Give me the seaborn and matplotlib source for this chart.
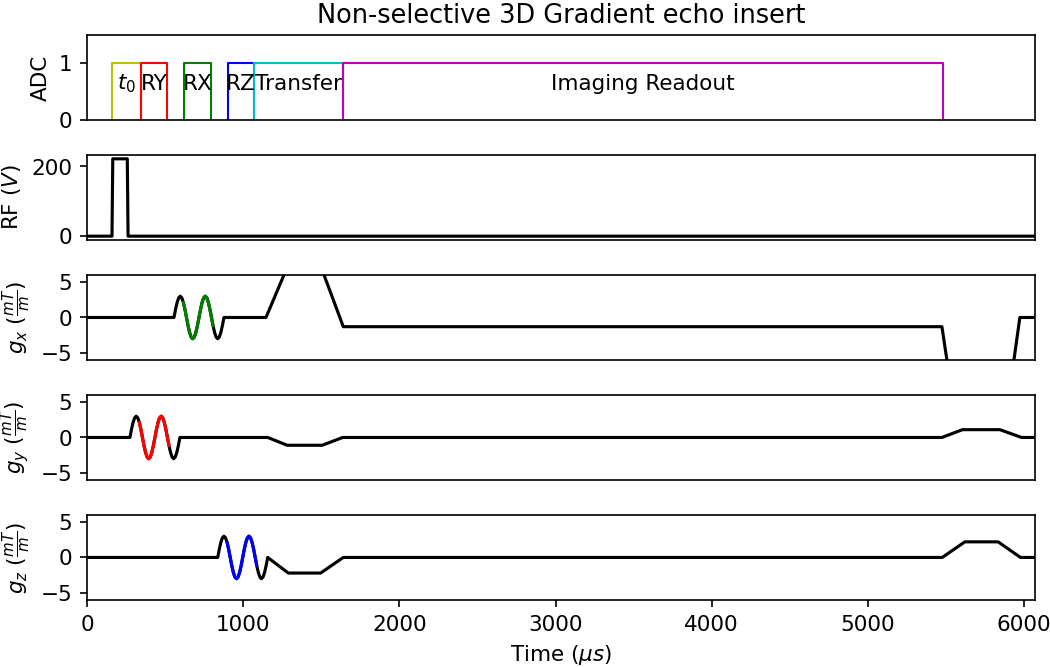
import matplotlib
matplotlib.use("Agg")
import matplotlib.pyplot as plt
import seaborn as sns
import numpy as np

# ---------------- data ----------------
t_end = 6070

# ADC windows (start, end) in us
adc_labels = ["$t_0$", "RY", "RX", "RZ", "Transfer", "Imaging Readout"]
adc_starts = [160, 346, 621, 903, 1069, 1639]
adc_ends = [346, 512, 794, 1069, 1639, 5480]
adc_colors = ["#bfbf00", "#ff0000", "#008000", "#0000ff", "#00bfbf", "#bf00bf"]

# RF pulse breakpoints
rf_times = [0, 160, 165, 258, 263, t_end]
rf_values = [0, 0, 222, 222, 0, 0]

# oscillating (bipolar) lobe shape, offsets in us and amplitude in mT/m
osc_offsets = [0, 10, 20, 30, 40, 50, 60, 70, 80, 90, 100, 110, 120, 130, 140, 150, 160,
               170, 180, 190, 200, 210, 220, 230, 240, 250, 260, 270, 280, 290, 300, 310, 320]
osc_shape = [0, 1.15, 2.12, 2.77, 3.0, 2.77, 2.12, 1.15, 0, -1.15, -2.12, -2.77, -3.0, -2.77,
             -2.12, -1.15, 0, 1.15, 2.12, 2.77, 3.0, 2.77, 2.12, 1.15, 0, -1.15, -2.12, -2.77,
             -3.0, -2.77, -2.12, -1.15, 0]
osc_color_from, osc_color_to = 6, 25

# gx
gx_osc_start = 557
gx_after_t = [1146, 1338, 1450, 1641, 5474, 5547, 5897, 5973, t_end]
gx_after_v = [0, 10, 10, -1.3, -1.3, -12, -12, 0, 0]
# gy
gy_osc_start = 275
gy_after_t = [1157, 1282, 1506, 1637, 5474, 5606, 5845, 5984, t_end]
gy_after_v = [0, -1.1, -1.1, 0, 0, 1.1, 1.1, 0, 0]
# gz
gz_osc_start = 837
gz_after_t = [1157, 1289, 1496, 1641, 5476, 5621, 5834, 5977, t_end]
gz_after_v = [0, -2.2, -2.2, 0, 0, 2.2, 2.2, 0, 0]

# ---------------- style ----------------
sns.set_theme(style="ticks")
plt.rcParams.update({
    "font.family": ["DejaVu Sans"],
    "font.size": 10.3,
    "axes.labelsize": 10.3,
    "axes.titlesize": 12.3,
    "xtick.labelsize": 10.3,
    "ytick.labelsize": 10.3,
    "axes.edgecolor": "black",
    "axes.labelcolor": "black",
    "text.color": "black",
    "xtick.color": "black",
    "ytick.color": "black",
    "axes.linewidth": 0.8,
    "xtick.major.size": 3.5,
    "ytick.major.size": 3.5,
    "xtick.major.width": 0.8,
    "ytick.major.width": 0.8,
    "mathtext.fontset": "dejavusans",
})

fig, axes = plt.subplots(5, 1, figsize=(7, 4.447), dpi=150)
fig.subplots_adjust(left=87 / 1050, right=1035 / 1050, top=1 - 35 / 667,
                    bottom=1 - 600 / 667, hspace=0.41)

for ax in axes:
    ax.set_xlim(0, t_end)

# ADC
ax = axes[0]
for lab, s, e, c in zip(adc_labels, adc_starts, adc_ends, adc_colors):
    sns.lineplot(x=[s, s, e, e], y=[0, 1, 1, 0], ax=ax, color=c, lw=1.0,
                 estimator=None, sort=False)
    ax.text((s + e) / 2, 0.64, lab, ha="center", va="center", fontsize=10.3)
ax.set_ylim(0, 1.5)
ax.set_yticks([0, 1])
ax.set_ylabel("ADC")
ax.set_title("Non-selective 3D Gradient echo insert", fontsize=12.3)

# RF
ax = axes[1]
sns.lineplot(x=rf_times, y=rf_values, ax=ax, color="#000000", lw=1.5,
             estimator=None, sort=False)
ax.set_ylim(-11.1, 233.1)
ax.set_yticks([0, 200])
ax.set_ylabel("RF ($V$)")


def grad(ax, osc_start, after_t, after_v, color, name):
    ot = [osc_start + o for o in osc_offsets]
    t = [0] + ot + after_t
    v = [0] + osc_shape + after_v
    sns.lineplot(x=t, y=v, ax=ax, color="#000000", lw=1.5, estimator=None, sort=False)
    sns.lineplot(x=ot[osc_color_from:osc_color_to + 1],
                 y=osc_shape[osc_color_from:osc_color_to + 1],
                 ax=ax, color=color, lw=1.5, estimator=None, sort=False)
    ax.set_ylim(-6, 6)
    ax.set_yticks([-5, 0, 5])
    ax.set_ylabel(name)


grad(axes[2], gx_osc_start, gx_after_t, gx_after_v, "#008000", r"$g_x$ ($\frac{mT}{m}$)")
grad(axes[3], gy_osc_start, gy_after_t, gy_after_v, "#ff0000", r"$g_y$ ($\frac{mT}{m}$)")
grad(axes[4], gz_osc_start, gz_after_t, gz_after_v, "#0000ff", r"$g_z$ ($\frac{mT}{m}$)")

for ax in axes[:-1]:
    ax.tick_params(axis="x", bottom=False, labelbottom=False)
    ax.set_xlabel("")
axes[-1].set_xticks([0, 1000, 2000, 3000, 4000, 5000, 6000])
axes[-1].set_xlabel(r"Time ($\mu s$)")

fig.savefig("out.png", dpi=150)
